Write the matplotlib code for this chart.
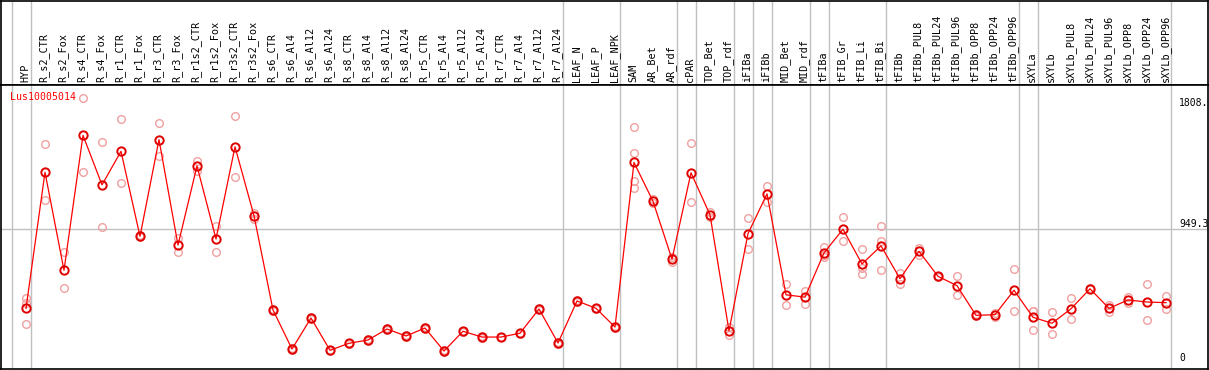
import numpy as np
import matplotlib
matplotlib.use("Agg")
import matplotlib.pyplot as plt

gene = "Lus10005014"

samples = ["HYP", "R_s2_CTR", "R_s2_Fox", "R_s4_CTR", "R_s4_Fox", "R_r1_CTR", "R_r1_Fox",
           "R_r3_CTR", "R_r3_Fox", "R_r1s2_CTR", "R_r1s2_Fox", "R_r3s2_CTR", "R_r3s2_Fox",
           "R_s6_CTR", "R_s6_Al4", "R_s6_Al12", "R_s6_Al24", "R_s8_CTR", "R_s8_Al4",
           "R_s8_Al12", "R_s8_Al24", "R_r5_CTR", "R_r5_Al4", "R_r5_Al12", "R_r5_Al24",
           "R_r7_CTR", "R_r7_Al4", "R_r7_Al12", "R_r7_Al24", "LEAF_N", "LEAF_P", "LEAF_NPK",
           "SAM", "AR_Bet", "AR_rdf", "cPAR", "TOP_Bet", "TOP_rdf", "iFIBa", "iFIBb",
           "MID_Bet", "MID_rdf", "tFIBa", "tFIB_Gr", "tFIB_Li", "tFIB_Bi", "tFIBb",
           "tFIBb_PUL8", "tFIBb_PUL24", "tFIBb_PUL96", "tFIBb_OPP8", "tFIBb_OPP24",
           "tFIBb_OPP96", "sXYLa", "sXYLb", "sXYLb_PUL8", "sXYLb_PUL24", "sXYLb_PUL96",
           "sXYLb_OPP8", "sXYLb_OPP24", "sXYLb_OPP96"]

# replicate values per sample
reps = [
    [459, 428, 275], [1551, 1154], [785, 530], [1877, 1352], [1565, 962],
    [1728, 1274], [906, 891], [1700, 1468], [884, 789], [1433, 1362],
    [974, 785], [1750, 1317], [1066, 1023],
    [380, 372], [103, 95], [323, 315], [94, 86], [144, 136], [167, 159],
    [245, 237], [196, 187], [252, 244], [89, 81], [229, 221], [188, 180],
    [186, 182], [215, 207], [387, 379], [146, 138], [444, 436], [392, 384],
    [259, 251],
    [1674, 1487, 1289, 1239], [1161, 1133], [754, 718], [1558, 1140],
    [1069, 1033], [257, 199], [1028, 806], [1255, 1144], [558, 409], [513, 421],
    [825, 766, 752], [1035, 863], [806, 672, 629], [972, 863, 657], [636, 560],
    [818, 766], [618, 611], [617, 480], [345, 331], [358, 327], [665, 367],
    [372, 366, 234], [360, 204], [459, 310], [530, 523], [411, 364], [466, 428],
    [560, 305], [475, 381],
]

# group separators (after these sample indices)
group_ends = [-1, 0, 28, 31, 34, 35, 37, 38, 39, 41, 42, 45, 52, 53, 60]

ref_labels = ["1808.", "949.3", "0"]
ref_values = [1808, 949.3, 0]

W, H = 1209, 370
fig = plt.figure(figsize=(W / 100, H / 100), dpi=100)
mono = "DejaVu Sans Mono"

x = np.arange(len(samples))
means = [np.mean(r) for r in reps]
xlim = ((1 - 26) / 19, (1208 - 26) / 19)

# header with names
hd = fig.add_axes([1 / W, (H - 85) / H, 1207 / W, 84.5 / H])
hd.set_xlim(xlim)
hd.set_ylim(0, 1)
hd.set_xticks([])
hd.set_yticks([])
for s in hd.spines.values():
    s.set_color("black")
    s.set_linewidth(1.2)
for g in group_ends:
    hd.axvline(g + 0.25, color="#c0c0c0", lw=1)
for i, name in enumerate(samples):
    hd.text(i - 0.05, 0.03, name, rotation=90, ha="center", va="bottom",
            fontsize=7.3, family=mono)

# plot area
ax = fig.add_axes([1 / W, 1 / H, 1207 / W, 284 / H])
ax.set_xlim(xlim)
ax.set_ylim(-42.6, 1971.6)
ax.set_xticks([])
ax.set_yticks([])
for s in ax.spines.values():
    s.set_color("black")
    s.set_linewidth(1.2)
for g in group_ends:
    ax.axvline(g + 0.25, color="#c0c0c0", lw=1, zorder=0)
ax.axhline(949.3, color="#c0c0c0", lw=1, zorder=0)

for i, r in enumerate(reps):
    ax.plot([i] * len(r), r, "o", ms=5.5, mfc="none", mec="#f0a0a0", mew=1, zorder=2)
ax.plot(x, means, "-", color="red", lw=0.9, zorder=3)
ax.plot(x, means, "o", ms=6, mfc="none", mec="#e00000", mew=1.4, zorder=4)

ax.text(9 / 1207, 0.958, gene, transform=ax.transAxes, color="red",
        fontsize=7.1, family=mono, va="center", ha="left")

for lab, v in zip(ref_labels, ref_values):
    ax.text((1179 - 26) / 19, v, lab, fontsize=7, family=mono, ha="left",
            va="bottom", clip_on=True)

fig.savefig("out.png", dpi=100)
